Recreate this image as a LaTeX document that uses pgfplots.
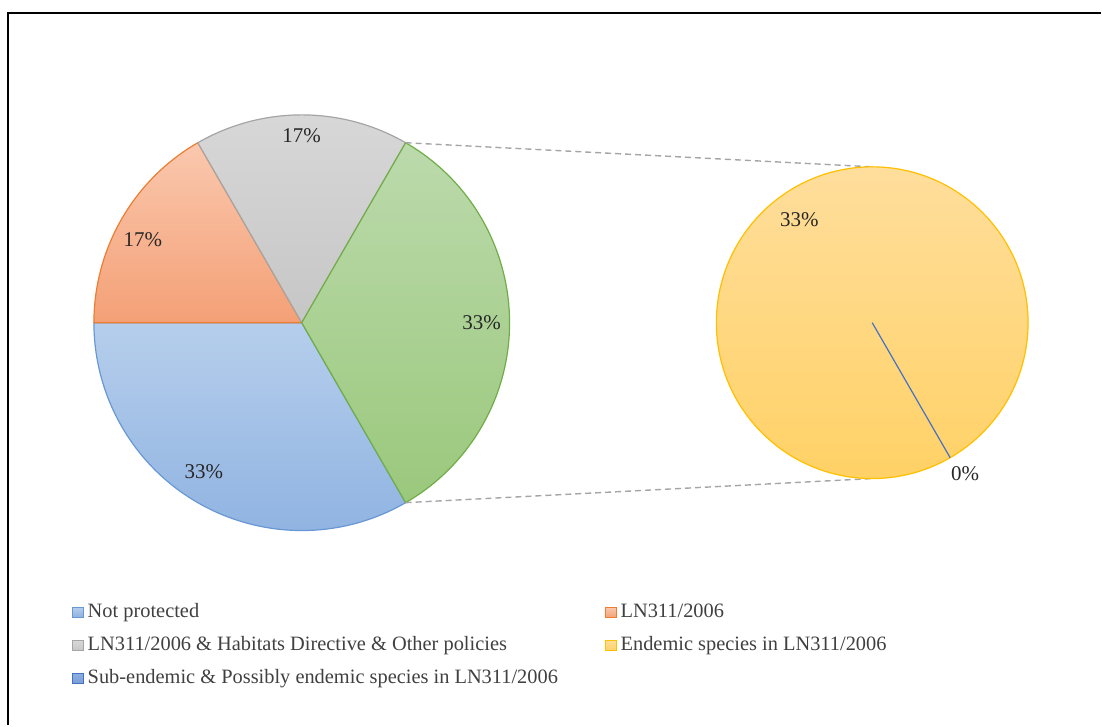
\documentclass[border=0pt]{standalone}
\usepackage{pgfplots}
\usepackage{pgfplotstable}
\pgfplotsset{compat=1.18}
\usepackage{fontspec}
\setmainfont{Liberation Serif}

\definecolor{txt}{RGB}{64,64,64}
\definecolor{blueT}{RGB}{182,206,236}
\definecolor{blueB}{RGB}{139,176,224}
\definecolor{blueE}{RGB}{104,152,212}
\definecolor{orgT}{RGB}{250,200,174}
\definecolor{orgB}{RGB}{244,160,118}
\definecolor{orgE}{RGB}{237,125,49}
\definecolor{grayT}{RGB}{216,216,216}
\definecolor{grayB}{RGB}{198,198,198}
\definecolor{grayE}{RGB}{165,165,165}
\definecolor{grnT}{RGB}{188,218,172}
\definecolor{grnB}{RGB}{154,200,124}
\definecolor{grnE}{RGB}{112,173,71}
\definecolor{yelT}{RGB}{255,222,156}
\definecolor{yelB}{RGB}{255,209,102}
\definecolor{yelE}{RGB}{255,192,0}
\definecolor{dblue}{RGB}{68,114,196}

% counts per category
\pgfplotstableread{
value
2
1
1
2
0
}\piedata
\pgfplotstablegetelem{0}{value}\of\piedata\let\vA\pgfplotsretval
\pgfplotstablegetelem{1}{value}\of\piedata\let\vB\pgfplotsretval
\pgfplotstablegetelem{2}{value}\of\piedata\let\vC\pgfplotsretval
\pgfplotstablegetelem{3}{value}\of\piedata\let\vD\pgfplotsretval
\pgfplotstablegetelem{4}{value}\of\piedata\let\vE\pgfplotsretval
\pgfmathsetmacro\tot{\vA+\vB+\vC+\vD+\vE}
\pgfmathsetmacro\aA{-60}
\pgfmathsetmacro\aB{\aA-360*\vA/\tot}
\pgfmathsetmacro\aC{\aB-360*\vB/\tot}
\pgfmathsetmacro\aD{\aC-360*\vC/\tot}
\pgfmathsetmacro\aE{\aD-360*(\vD+\vE)/\tot}

% slice: style, center x, center y, radius (pt), start, end
\newcommand{\pieslice}[6]{%
  \path[#1] (axis cs:#2,#3) -- ++(#5:#4) arc[start angle=#5,end angle=#6,radius=#4] -- cycle;}

\begin{document}
\begin{tikzpicture}
\begin{axis}[
  width=551pt, height=363pt, scale only axis,
  xmin=0, xmax=1102, ymin=0, ymax=726,
  hide axis, clip=false,
  legend columns=2,
  legend style={at={(axis cs:72,126)}, anchor=north west, draw=none, fill=none,
    font=\fontsize{10.2}{12}\selectfont, text=txt,
    cells={anchor=west}, row sep=3.9pt, inner sep=0pt},
  legend image code/.code={\path[#1] (0pt,-2.6pt) rectangle (5.2pt,2.6pt);},
]
\path (axis cs:0,0) rectangle (axis cs:1102,726);
\draw[line width=1pt] (axis cs:8,0) -- (axis cs:8,712.5) -- (axis cs:1102,712.5);

% first pie
\pieslice{top color=blueT,bottom color=blueB,draw=blueE,line width=0.6pt}{302}{403}{104pt}{\aA}{\aB}
\pieslice{top color=orgT,bottom color=orgB,draw=orgE,line width=0.6pt}{302}{403}{104pt}{\aB}{\aC}
\pieslice{top color=grayT,bottom color=grayB,draw=grayE,line width=0.6pt}{302}{403}{104pt}{\aC}{\aD}
\pieslice{top color=grnT,bottom color=grnB,draw=grnE,line width=0.6pt}{302}{403}{104pt}{\aD}{\aE}

% connectors
\draw[grayE, line width=0.7pt, dash pattern=on 3pt off 2pt] (axis cs:302,403) ++(\aD:104pt) -- (axis cs:873,559);
\draw[grayE, line width=0.7pt, dash pattern=on 3pt off 2pt] (axis cs:302,403) ++(\aE:104pt) -- (axis cs:873,247);

% second pie
\path[top color=yelT,bottom color=yelB,draw=yelE,line width=0.6pt] (axis cs:873,403) circle[radius=78pt];
\draw[dblue, line width=0.6pt] (axis cs:873,403) -- ++(-60:78pt);

% labels
\begin{scope}[every node/.style={font=\fontsize{10.5}{12}\selectfont, text=black!85}]
\node at (axis cs:204,254) {33\%};
\node at (axis cs:143,486) {17\%};
\node at (axis cs:302,590) {17\%};
\node at (axis cs:482,403) {33\%};
\node at (axis cs:800,506) {33\%};
\node at (axis cs:966,252) {0\%};
\end{scope}

\addlegendimage{top color=blueT,bottom color=blueB,draw=blueE,line width=0.5pt}
\addlegendentry{\makebox[257pt][l]{Not protected}}
\addlegendimage{top color=orgT,bottom color=orgB,draw=orgE,line width=0.5pt}
\addlegendentry{LN311/2006}
\addlegendimage{top color=grayT,bottom color=grayB,draw=grayE,line width=0.5pt}
\addlegendentry{\makebox[257pt][l]{LN311/2006 \& Habitats Directive \& Other policies}}
\addlegendimage{top color=yelT,bottom color=yelB,draw=yelE,line width=0.5pt}
\addlegendentry{Endemic species in LN311/2006}
\addlegendimage{top color=blueB,bottom color=dblue!70,draw=dblue,line width=0.5pt}
\addlegendentry{\makebox[257pt][l]{Sub-endemic \& Possibly endemic species in LN311/2006}}
\end{axis}
\end{tikzpicture}
\end{document}
